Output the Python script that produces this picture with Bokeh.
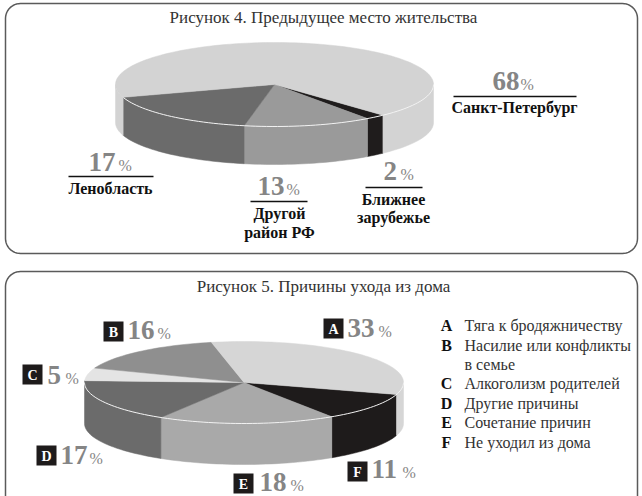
import math
from bokeh.plotting import figure
from bokeh.models import Range1d
from bokeh.core.properties import value
from bokeh.embed import file_html
from bokeh.resources import INLINE

# Figure 4 data (clockwise from the black slice)
fig4_names = ["Ближнее зарубежье", "Другой район РФ", "Ленобласть", "Санкт-Петербург"]
fig4_values = [2, 13, 17, 68]
fig4_colors = ["#1f1c1c", "#9a9a9a", "#6b6b6b", "#d3d3d3"]

# Figure 5 data (clockwise from the black slice)
fig5_letters = ["F", "E", "D", "C", "B", "A"]
fig5_values = [11, 18, 17, 5, 16, 33]
fig5_colors = ["#1e1b1b", "#a9a9a9", "#6b6b6b", "#e4e4e4", "#8f8f8f", "#d6d6d6"]

legend_rows = [("A", "Тяга к бродяжничеству"), ("B", "Насилие или конфликты"), ("", "в семье"),
               ("C", "Алкоголизм родителей"), ("D", "Другие причины"),
               ("E", "Сочетание причин"), ("F", "Не уходил из дома")]

SERIF = "Liberation Serif"
GREY = "#858585"
INK = "#231f20"

p = figure(width=642, height=496, output_backend="svg", toolbar_location=None,
           x_range=Range1d(0, 642), y_range=Range1d(496, 0), min_border=0,
           outline_line_color=None, background_fill_color="white")
p.axis.visible = False
p.grid.visible = False


def panel(x0, y0, x1, y1, r=15):
    xs, ys = [], []
    for cx, cy, a0 in [(x1 - r, y0 + r, -90), (x1 - r, y1 - r, 0), (x0 + r, y1 - r, 90), (x0 + r, y0 + r, 180)]:
        for i in range(13):
            a = math.radians(a0 + i * 7.5)
            xs.append(cx + r * math.cos(a))
            ys.append(cy + r * math.sin(a))
    xs.append(xs[0])
    ys.append(ys[0])
    p.line(xs, ys, line_color="#5a5a5a", line_width=1.5)


def arc(cx, cy, rx, ry, a0, a1, dy=0):
    n = max(2, int(abs(a1 - a0) / 2) + 2)
    angs = [math.radians(a0 + (a1 - a0) * i / (n - 1)) for i in range(n)]
    return [cx + rx * math.cos(a) for a in angs], [cy + dy + ry * math.sin(a) for a in angs]


def pie(vals, cols, start, cx, cy, rx, ry, depth, hl_from, hl_to):
    a = start
    spans = []
    for v, c in zip(vals, cols):
        spans.append((a, a + v * 3.6, c))
        a += v * 3.6
    for a0, a1, c in spans:
        for lo, hi in [(0, 180), (360, 540)]:
            s, e = max(a0, lo), min(a1, hi)
            if e > s:
                tx, ty = arc(cx, cy, rx, ry, s, e)
                bx, by = arc(cx, cy, rx, ry, e, s, depth)
                p.patch(tx + bx, ty + by, fill_color=c, line_color=c, line_width=0.5)
    for a0, a1, c in spans:
        tx, ty = arc(cx, cy, rx, ry, a0, a1)
        p.patch([cx] + tx, [cy] + ty, fill_color=c, line_color=c, line_width=0.5)
    hx, hy = arc(cx, cy, rx, ry, hl_from, hl_to)
    p.line(hx, hy, line_color="#f2f2f2", line_width=1)


def txt(x, y, s, size, color=INK, style="normal", align="left", baseline="middle"):
    p.text([x], [y], text=[s], text_font=value(SERIF), text_font_size=f"{size}px", text_color=color,
           text_font_style=style, text_align=align, text_baseline=baseline)


def num(x, base, v, pct_x, size=27, pct=16):
    txt(x, base - 0.3 * size, str(v), size, GREY, "bold")
    txt(pct_x, base - 0.3 * pct, "%", pct, GREY)


def rule(x0, x1, y):
    p.line([x0, x1], [y, y], line_color="#111111", line_width=1.3)


panel(5, 3, 637, 253)
panel(5, 271, 637, 530)

txt(323, 17, "Рисунок 4. Предыдущее место жительства", 17, "#333333", align="center")
txt(323, 286, "Рисунок 5. Причины ухода из дома", 17, "#333333", align="center")

pie(fig4_values, fig4_colors, 47, 274, 84, 159, 42, 38, 0, 162)
pie(fig5_values, fig5_colors, 17, 243.5, 382, 159.5, 41, 41, 0, 180)

# Figure 4 labels
num(492, 89, fig4_values[3], 520)
rule(453, 576, 96)
txt(514, 107, fig4_names[3], 16, "#111111", "bold", "center")
num(88, 170, fig4_values[2], 118)
rule(68, 153, 176)
txt(110, 188, fig4_names[2], 16, "#111111", "bold", "center")
num(257, 194, fig4_values[1], 286)
rule(250, 307, 201)
txt(279, 213, "Другой", 16, "#111111", "bold", "center")
txt(279, 232, "район РФ", 16, "#111111", "bold", "center")
num(383, 179, fig4_values[0], 400)
rule(365, 422, 187)
txt(393, 199, "Ближнее", 16, "#111111", "bold", "center")
txt(393, 217, "зарубежье", 16, "#111111", "bold", "center")

# Figure 5 labels
placements = {"A": (323, 318, 347, 336, 378), "B": (103, 321, 127, 338, 157), "C": (22, 364, 47, 383, 65),
              "D": (36, 445, 60, 463, 89), "E": (233, 473, 259, 490, 290), "F": (347, 461, 371, 477, 402)}
for letter, v in zip(fig5_letters, fig5_values):
    bx, by, nx, base, px = placements[letter]
    p.quad(left=[bx], right=[bx + 20], top=[by], bottom=[by + 20], fill_color="#1e1b1b", line_color=None)
    txt(bx + 10, by + 10.5, letter, 14, "white", "bold", "center")
    num(nx, base, v, px)

row_y = [325, 345, 364, 383, 403, 422, 442]
for (letter, label), y in zip(legend_rows, row_y):
    if letter:
        txt(446, y, letter, 16, "#111111", "bold", "center")
    txt(464, y, label, 16, "#333333")

open("out.html", "w").write(file_html(p, INLINE))
